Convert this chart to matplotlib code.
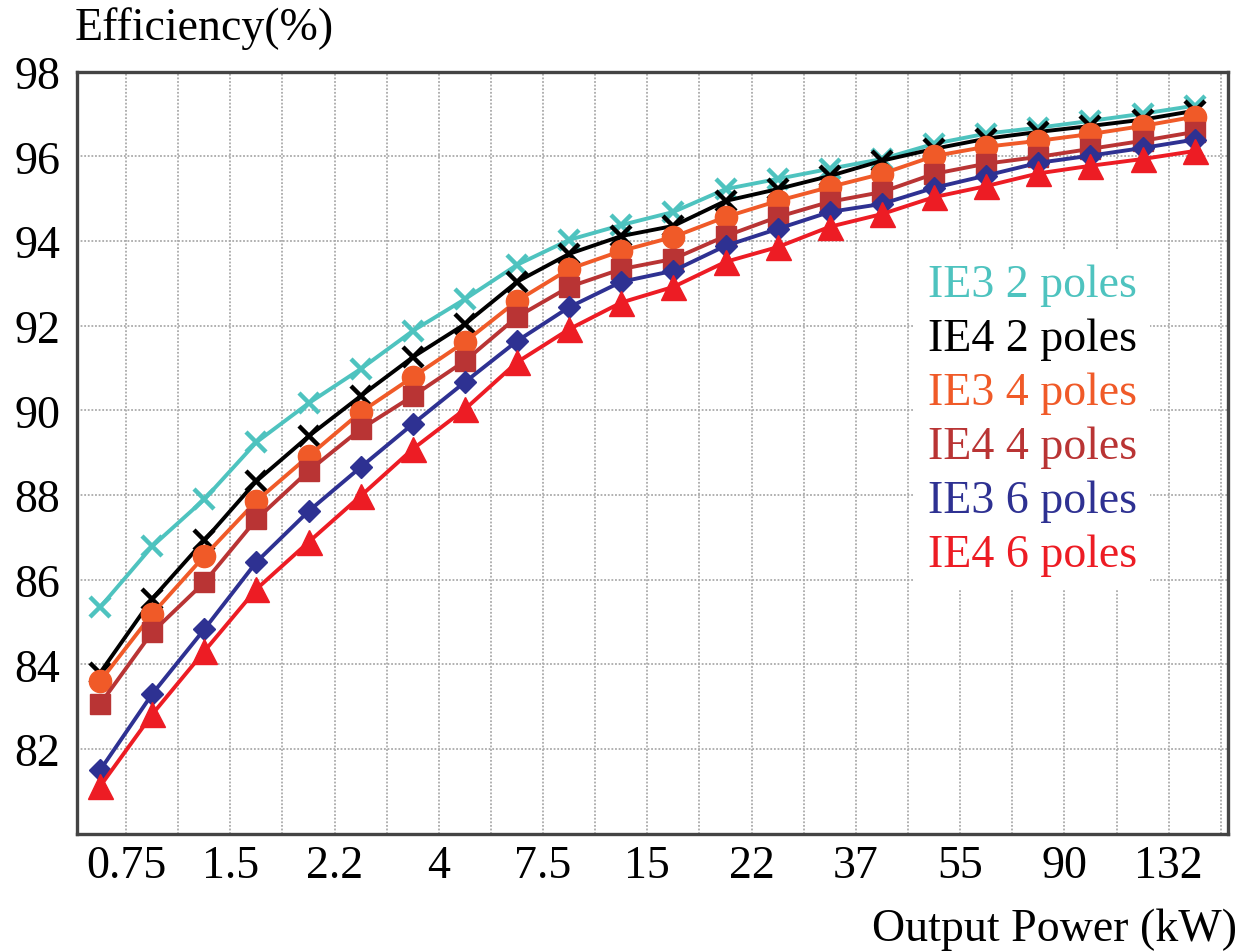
import numpy as np
import matplotlib
matplotlib.use("Agg")
import matplotlib.pyplot as plt

# output power categories (22 ratings), labels shown on every other grid line
n_points = 22
tick_labels = ['0.75', '1.5', '2.2', '4', '7.5', '15', '22', '37', '55', '90', '132']

# efficiency (%)
ie3_2p = [85.35, 86.79, 87.90, 89.25, 90.17, 90.98, 91.88, 92.63, 93.44, 94.03, 94.38,
          94.69, 95.23, 95.47, 95.71, 95.94, 96.30, 96.54, 96.68, 96.84, 97.01, 97.20]
ie4_2p = [83.80, 85.55, 86.93, 88.33, 89.39, 90.34, 91.26, 92.04, 93.04, 93.70, 94.12,
          94.36, 94.95, 95.23, 95.54, 95.90, 96.18, 96.42, 96.58, 96.72, 96.87, 97.08]
ie3_4p = [83.60, 85.19, 86.56, 87.86, 88.92, 89.96, 90.79, 91.62, 92.59, 93.34, 93.77,
          94.10, 94.57, 94.95, 95.28, 95.59, 96.01, 96.23, 96.37, 96.53, 96.72, 96.94]
ie4_4p = [83.06, 84.76, 85.94, 87.43, 88.57, 89.56, 90.34, 91.17, 92.21, 92.92, 93.34,
          93.58, 94.12, 94.57, 94.93, 95.16, 95.59, 95.83, 95.99, 96.18, 96.37, 96.58]
ie3_6p = [81.50, 83.30, 84.83, 86.42, 87.62, 88.66, 89.68, 90.67, 91.64, 92.44, 93.04,
          93.30, 93.89, 94.29, 94.69, 94.88, 95.26, 95.55, 95.85, 96.02, 96.20, 96.40]
ie4_6p = [81.12, 82.82, 84.31, 85.78, 86.89, 87.98, 89.09, 90.03, 91.14, 91.92, 92.55,
          92.92, 93.51, 93.86, 94.34, 94.64, 95.04, 95.30, 95.60, 95.78, 95.94, 96.13]

names = ['IE3 2 poles', 'IE4 2 poles', 'IE3 4 poles', 'IE4 4 poles', 'IE3 6 poles', 'IE4 6 poles']
series = [ie3_2p, ie4_2p, ie3_4p, ie4_4p, ie3_6p, ie4_6p]
colors = ['#4EC3BF', '#000000', '#F05A28', '#B93434', '#2E3192', '#ED1C24']
markers = ['x', 'x', 'o', 's', 'D', '^']
msizes = [14, 14, 16, 15, 11, 18]

plt.rcParams['font.family'] = ['Liberation Serif', 'DejaVu Serif']
FS = 33

fig = plt.figure(figsize=(12.43, 9.53), dpi=100)
ax = fig.add_axes([0.062, 0.124, 0.926, 0.7996])

x = np.arange(n_points)
for vals, name, c, m, ms in zip(series, names, colors, markers, msizes):
    mew = 3.2 if m == 'x' else 1
    ax.plot(x, vals, color=c, lw=2.8, marker=m, ms=ms, mew=mew, mec=c, mfc=c, label=name)

ax.set_xlim(-0.44, 21.64)
ax.set_ylim(80, 98)

# grid lines sit on the category boundaries
bounds = np.arange(n_points) + 0.5
ax.set_xticks(bounds)
labs = [''] * len(bounds)
for k, t in enumerate(tick_labels):
    labs[2 * k] = t
ax.set_xticklabels(labs)
ax.set_yticks(np.arange(82, 99, 2))
ax.tick_params(length=0, labelsize=FS, colors='black')
ax.tick_params(axis='y', pad=12)
ax.tick_params(axis='x', pad=8)

ax.grid(True, color='#aaaaaa', linestyle=(0, (1, 1)), linewidth=1.3)
ax.set_axisbelow(True)
for s in ax.spines.values():
    s.set_color('#444444')
    s.set_linewidth(2.4)

leg = ax.legend(loc='upper left', bbox_to_anchor=(0.707, 0.796), frameon=True,
                handlelength=0, handletextpad=0, fontsize=FS, labelspacing=0.25,
                borderpad=0.3)
leg.get_frame().set_facecolor('white')
leg.get_frame().set_edgecolor('none')
leg.get_frame().set_alpha(1)
for h in leg.legend_handles:
    h.set_visible(False)
for txt, c in zip(leg.get_texts(), colors):
    txt.set_color(c)

fig.text(0.06, 0.97, 'Efficiency(%)', fontsize=FS, ha='left', va='center')
fig.text(0.995, 0.024, 'Output Power (kW)', fontsize=FS, ha='right', va='center')

fig.savefig('out.png', dpi=100)
